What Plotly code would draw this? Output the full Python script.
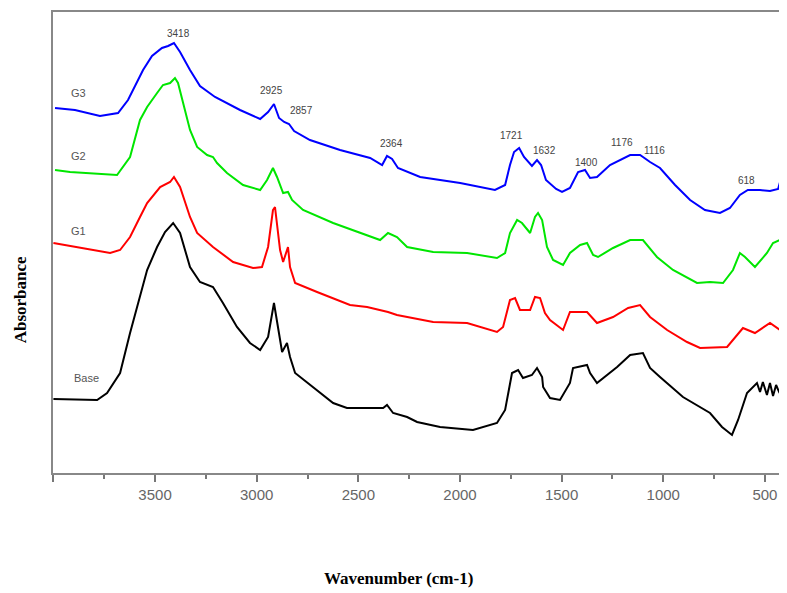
import plotly.graph_objects as go

# ---- data (wavenumber cm-1, absorbance a.u.) ----
g3_wn = [3992, 3894, 3771, 3682, 3633, 3598, 3559, 3515, 3466, 3436, 3407, 3377, 3328, 3279, 3205, 3082,
         2983, 2944, 2915, 2890, 2865, 2841, 2816, 2738, 2590, 2442, 2383, 2359, 2334, 2305, 2196, 1999,
         1828, 1778, 1754, 1734, 1709, 1685, 1646, 1621, 1601, 1577, 1527, 1498, 1459, 1419, 1385, 1360,
         1326, 1262, 1213, 1163, 1114, 1065, 1016, 942, 868, 795, 721, 672, 623, 584, 524, 475, 435, 416]
g3_abs = [3.65, 3.63, 3.57, 3.60, 3.73, 3.88, 4.03, 4.17, 4.25, 4.27, 4.30, 4.21, 4.03, 3.87, 3.76, 3.63,
          3.54, 3.61, 3.69, 3.55, 3.51, 3.49, 3.42, 3.33, 3.23, 3.15, 3.08, 3.17, 3.14, 3.05, 2.96, 2.90,
          2.83, 2.88, 3.08, 3.21, 3.25, 3.16, 3.07, 3.13, 3.08, 2.93, 2.84, 2.81, 2.85, 3.01, 3.03, 2.95,
          2.96, 3.08, 3.13, 3.18, 3.18, 3.11, 3.05, 2.88, 2.73, 2.63, 2.60, 2.65, 2.78, 2.83, 2.83, 2.82, 2.84, 2.98]

g2_wn = [3992, 3918, 3687, 3623, 3574, 3539, 3490, 3461, 3426, 3402, 3387, 3362, 3328, 3293, 3244, 3215,
         3195, 3146, 3067, 2983, 2949, 2920, 2900, 2870, 2846, 2826, 2772, 2624, 2393, 2354, 2310, 2260,
         2132, 1965, 1818, 1778, 1754, 1719, 1695, 1655, 1631, 1616, 1596, 1572, 1542, 1493, 1459, 1409,
         1375, 1345, 1321, 1247, 1163, 1100, 1031, 952, 834, 770, 706, 657, 623, 598, 549, 490, 460, 426, 411]
g2_abs = [3.03, 3.01, 2.98, 3.16, 3.53, 3.66, 3.80, 3.88, 3.90, 3.95, 3.90, 3.70, 3.43, 3.26, 3.18, 3.16,
          3.10, 3.00, 2.88, 2.83, 2.93, 3.05, 2.96, 2.80, 2.81, 2.73, 2.63, 2.50, 2.33, 2.40, 2.36, 2.26,
          2.21, 2.20, 2.15, 2.20, 2.40, 2.53, 2.50, 2.40, 2.56, 2.60, 2.53, 2.26, 2.13, 2.08, 2.20, 2.28,
          2.30, 2.18, 2.16, 2.25, 2.33, 2.33, 2.16, 2.03, 1.90, 1.91, 1.90, 2.03, 2.20, 2.16, 2.06, 2.20, 2.30, 2.33, 2.38]

g1_wn = [4000, 3854, 3721, 3672, 3623, 3574, 3539, 3475, 3426, 3407, 3377, 3328, 3293, 3215, 3116, 3018,
         2974, 2944, 2920, 2910, 2885, 2870, 2846, 2836, 2811, 2703, 2541, 2457, 2354, 2310, 2132, 1965,
         1818, 1788, 1754, 1729, 1705, 1655, 1631, 1606, 1582, 1557, 1493, 1459, 1375, 1326, 1247, 1173,
         1114, 1065, 981, 883, 819, 686, 657, 608, 549, 475, 426, 411]
g1_abs = [2.30, 2.25, 2.20, 2.23, 2.36, 2.56, 2.70, 2.86, 2.91, 2.96, 2.86, 2.56, 2.40, 2.26, 2.11, 2.05,
          2.06, 2.26, 2.63, 2.66, 2.23, 2.11, 2.26, 2.06, 1.90, 1.81, 1.68, 1.66, 1.61, 1.58, 1.51, 1.50,
          1.41, 1.46, 1.73, 1.75, 1.63, 1.63, 1.76, 1.75, 1.60, 1.53, 1.43, 1.61, 1.61, 1.50, 1.56, 1.65,
          1.68, 1.56, 1.43, 1.31, 1.25, 1.26, 1.33, 1.45, 1.40, 1.50, 1.43, 1.41]

base_wn = [4000, 3785, 3736, 3672, 3623, 3589, 3539, 3490, 3451, 3411, 3377, 3328, 3279, 3215, 3166, 3097,
           3033, 2983, 2944, 2915, 2895, 2875, 2851, 2836, 2811, 2738, 2624, 2556, 2378, 2359, 2329, 2260,
           2211, 2098, 1936, 1818, 1778, 1744, 1714, 1690, 1646, 1621, 1596, 1591, 1557, 1508, 1459, 1444,
           1375, 1360, 1326, 1227, 1163, 1100, 1065, 1016, 903, 770, 711, 662, 632, 588, 539, 524, 510,
           490, 475, 460, 445, 430, 421, 416, 411]
base_abs = [0.74, 0.73, 0.80, 1.00, 1.40, 1.66, 2.03, 2.26, 2.41, 2.50, 2.40, 2.06, 1.91, 1.86, 1.70, 1.46,
            1.30, 1.23, 1.36, 1.70, 1.46, 1.21, 1.30, 1.16, 1.00, 0.88, 0.70, 0.65, 0.65, 0.68, 0.60, 0.56,
            0.51, 0.46, 0.43, 0.50, 0.63, 1.00, 1.03, 0.95, 0.98, 1.05, 0.96, 0.86, 0.75, 0.73, 0.90, 1.05,
            1.08, 1.00, 0.90, 1.06, 1.18, 1.20, 1.05, 0.96, 0.76, 0.60, 0.46, 0.38, 0.53, 0.80, 0.90, 0.81, 0.91,
            0.78, 0.90, 0.77, 0.88, 0.81, 0.78, 1.18, 1.20]

series_names = ["G3", "G2", "G1", "Base"]
series_colors = ["#0000ff", "#00e600", "#ff0000", "#000000"]

# series labels (wavenumber, absorbance)
label_wn = [3879, 3879, 3879, 3835]
label_abs = [3.80, 3.17, 2.42, 0.95]

# peak labels on G3
peak_text = ["3418", "2925", "2857", "2364", "1721", "1632", "1400", "1176", "1116", "618"]
peak_wn = [3387, 2929, 2782, 2339, 1749, 1582, 1380, 1203, 1045, 593]
peak_abs = [4.40, 3.83, 3.63, 3.30, 3.38, 3.23, 3.11, 3.31, 3.23, 2.93]

tick_vals = [4000, 3500, 3000, 2500, 2000, 1500, 1000, 500]
tick_text = ["", "3500", "3000", "2500", "2000", "1500", "1000", "500"]

fig = go.Figure()
for xs, ys, name, col in zip([g3_wn, g2_wn, g1_wn, base_wn], [g3_abs, g2_abs, g1_abs, base_abs],
                             series_names, series_colors):
    fig.add_trace(go.Scatter(x=xs, y=ys, mode="lines", name=name,
                             line=dict(color=col, width=2), showlegend=False))

for t, xv, yv in zip(series_names, label_wn, label_abs):
    fig.add_annotation(x=xv, y=yv, text=t, showarrow=False,
                       font=dict(family="Arial, Liberation Sans", size=11, color="#555555"))
for t, xv, yv in zip(peak_text, peak_wn, peak_abs):
    fig.add_annotation(x=xv, y=yv, text=t, showarrow=False,
                       font=dict(family="Arial, Liberation Sans", size=10, color="#444444"))

fig.add_annotation(xref="paper", yref="paper", x=0.473, y=-0.228, xanchor="center", yanchor="middle",
                   text="<b>Wavenumber (cm-1)</b>", showarrow=False,
                   font=dict(family="Liberation Serif, Times New Roman", size=17, color="#000"))
fig.add_annotation(xref="paper", yref="paper", x=-0.045, y=0.375, xanchor="center", yanchor="middle",
                   text="<b>Absorbance</b>", textangle=-90, showarrow=False,
                   font=dict(family="Liberation Serif, Times New Roman", size=17, color="#000"))

fig.update_layout(
    width=779, height=585,
    margin=dict(l=45, r=4, t=4, b=120, autoexpand=False),
    paper_bgcolor="white", plot_bgcolor="white",
)
fig.update_xaxes(range=[4002, 411], tickvals=tick_vals, ticktext=tick_text, automargin=False,
                 ticks="outside", ticklen=7, tickcolor="#777", tickwidth=1.5,
                 minor=dict(dtick=250, ticks="outside", ticklen=4, tickcolor="#777", showgrid=False),
                 showline=True, linecolor="#888", linewidth=2, mirror=True, showgrid=False, zeroline=False,
                 tickfont=dict(family="Arial, Liberation Sans", size=15, color="#666"))
fig.update_yaxes(range=[0, 4.61], showticklabels=False, ticks="", showline=True, linecolor="#888",
                 linewidth=2, mirror=True, showgrid=False, zeroline=False, automargin=False)

fig.write_html("out.html")
